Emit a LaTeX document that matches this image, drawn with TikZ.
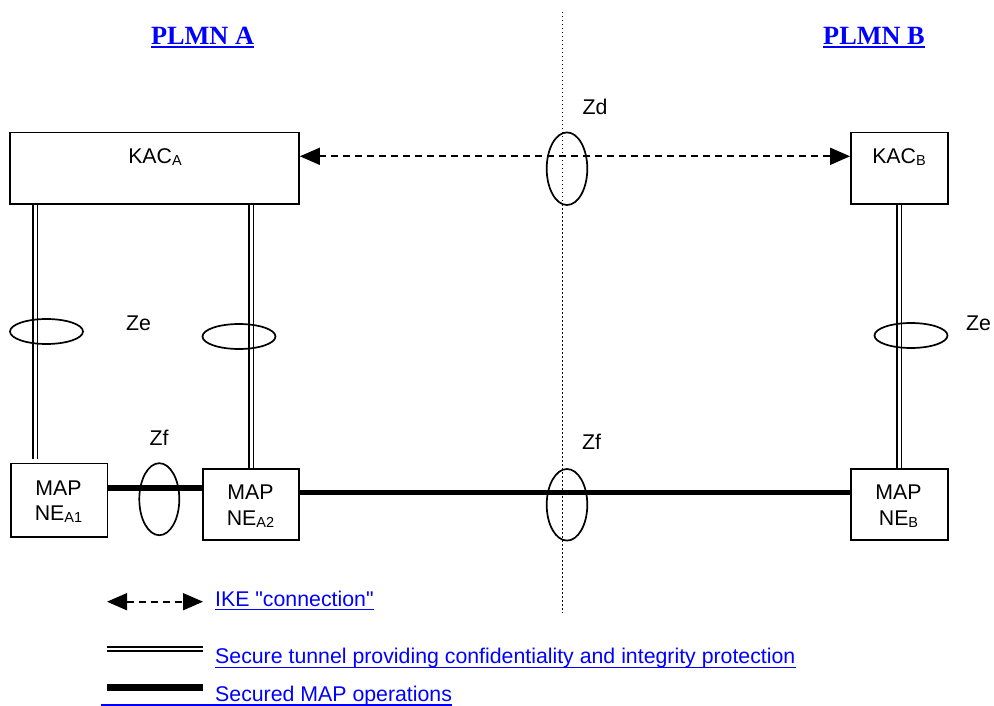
\documentclass[tikz,border=0pt]{standalone}
\usepackage{fontspec}
\setmainfont{Liberation Serif}
\setsansfont{Liberation Sans}[Ligatures=TeXOff]
\usetikzlibrary{arrows.meta}
\definecolor{linkblue}{RGB}{0,0,255}
\newcommand{\subx}[1]{\raisebox{-2pt}{\fontsize{14.5}{14.5}\selectfont #1}}
\begin{document}
\begin{tikzpicture}[x=1pt,y=-1pt,
  box/.style={draw,line width=1.7pt,inner sep=0pt},
  lbl/.style={font=\sffamily\fontsize{21.3}{24}\selectfont,inner sep=0pt,anchor=base},
  link/.style={lbl,text=linkblue,anchor=base west},
  head/.style={font=\rmfamily\bfseries\fontsize{26.3}{30}\selectfont,text=linkblue,inner sep=0pt,anchor=base},
  uline/.style={draw=linkblue,line width=1.5pt},
  tunnel/.style={draw,double,line width=1.6pt,double distance=3pt},
  legtunnel/.style={draw,double,line width=2.2pt,double distance=2.4pt},
  mapop/.style={draw,line width=5.5pt},
  legmapop/.style={draw,line width=7pt},
  ike/.style={draw,line width=1.6pt,dash pattern=on 7pt off 5pt,
    {Triangle[length=20pt,width=17pt]}-{Triangle[length=20pt,width=17pt]}},
  zone/.style={draw,line width=1.7pt},
  border/.style={line width=1.5pt,dash pattern=on 1.5pt off 2.5pt}]
\useasboundingbox (0,0) rectangle (994,706);

% headings
\node[head] (plmnA) at (202.5,44.3) {PLMN A};
\node[head] (plmnB) at (874,44.3) {PLMN B};
\draw[uline,line width=1.7pt] ([yshift=-3pt]plmnA.base west) -- ([yshift=-3pt]plmnA.base east);
\draw[uline,line width=1.7pt] ([yshift=-3pt]plmnB.base west) -- ([yshift=-3pt]plmnB.base east);

% dotted border between PLMNs
\coordinate (dtop) at (562.7,12);
\coordinate (dbot) at (562.7,613);
\draw[border] (dtop) -- (dbot);

% boxes
\node[box,minimum width=289pt,minimum height=71.3pt] (kacA) at (154.5,168.3) {};
\node[box,minimum width=96.7pt,minimum height=71.3pt] (kacB) at (899.3,168.3) {};
\node[box,minimum width=96.3pt,minimum height=73.7pt] (ne1) at (59.2,500.2) {};
\node[box,minimum width=96pt,minimum height=71.3pt] (ne2) at (251.3,504.3) {};
\node[box,minimum width=96.7pt,minimum height=71pt] (neB) at (899.3,504.5) {};

% box texts
\node[lbl] (kacAt) at (155,163.3) {KAC\subx{A}};
\node[lbl] (kacBt) at (899,163.3) {KAC\subx{B}};
\node[lbl] (ne1a) at (58.5,495) {MAP};
\node[lbl] (ne1b) at (58.5,520) {NE\subx{A1}};
\node[lbl] (ne2a) at (250.5,499) {MAP};
\node[lbl] (ne2b) at (250.5,525) {NE\subx{A2}};
\node[lbl] (neBa) at (898.5,499) {MAP};
\node[lbl] (neBb) at (898.5,525) {NE\subx{B}};

% connectors
\draw[ike] ([yshift=12pt]kacA.east) -- ([yshift=12pt]kacA.east -| kacB.west);
\coordinate (ne1top) at (35,459);
\draw[tunnel] (kacA.south -| ne1top) -- (ne1top);
\draw[tunnel] (kacA.south -| ne2.north) -- (ne2.north);
\draw[tunnel] (kacB.south) -- (neB.north);
\draw[mapop] ([yshift=12pt]ne1.east) -- ([yshift=12pt]ne1.east -| ne2.west);
\draw[mapop] ([yshift=12pt]ne2.east) -- ([yshift=12pt]ne2.east -| neB.west);

% interface ellipses
\draw[zone] (567,168.7) ellipse [x radius=20.3pt, y radius=36.3pt];
\draw[zone] (567,504.8) ellipse [x radius=20.3pt, y radius=35.8pt];
\draw[zone] (159.3,499.2) ellipse [x radius=20pt, y radius=36pt];
\draw[zone] (46.5,331.5) ellipse [x radius=36.5pt, y radius=12.5pt];
\draw[zone] (239,336.5) ellipse [x radius=36.5pt, y radius=12.5pt];
\draw[zone] (911,335.5) ellipse [x radius=36.5pt, y radius=12.5pt];

% interface labels
\node[lbl] (zd) at (595,114.3) {Zd};
\node[lbl] (ze1) at (138.5,330.7) {Ze};
\node[lbl] (ze2) at (978.5,330.7) {Ze};
\node[lbl] (zf1) at (159,445) {Zf};
\node[lbl] (zf2) at (591.5,449.3) {Zf};

% legend
\coordinate (l1a) at (107,601.7);
\coordinate (l1b) at (203,601.7);
\draw[ike] (l1a) -- (l1b);
\node[link] (t1) at (215,606.7) {IKE "connection"};
\draw[uline] ([yshift=-2.7pt]t1.base west) -- ([yshift=-2.7pt]t1.base east);

\coordinate (l2a) at (107,649);
\coordinate (l2b) at (203,649);
\draw[legtunnel] (l2a) -- (l2b);
\node[link] (t2) at (215,663.3) {Secure tunnel providing confidentiality and integrity protection};
\draw[uline] ([yshift=-4pt]t2.base west) -- ([yshift=-4pt]t2.base east);

\coordinate (l3a) at (107,687.5);
\coordinate (l3b) at (203,687.5);
\draw[legmapop] (l3a) -- (l3b);
\node[link] (t3) at (215,701.7) {Secured MAP operations};
\coordinate (u3) at (101,704.8);
\draw[uline] (u3) -- (u3 -| t3.east);
\end{tikzpicture}
\end{document}
